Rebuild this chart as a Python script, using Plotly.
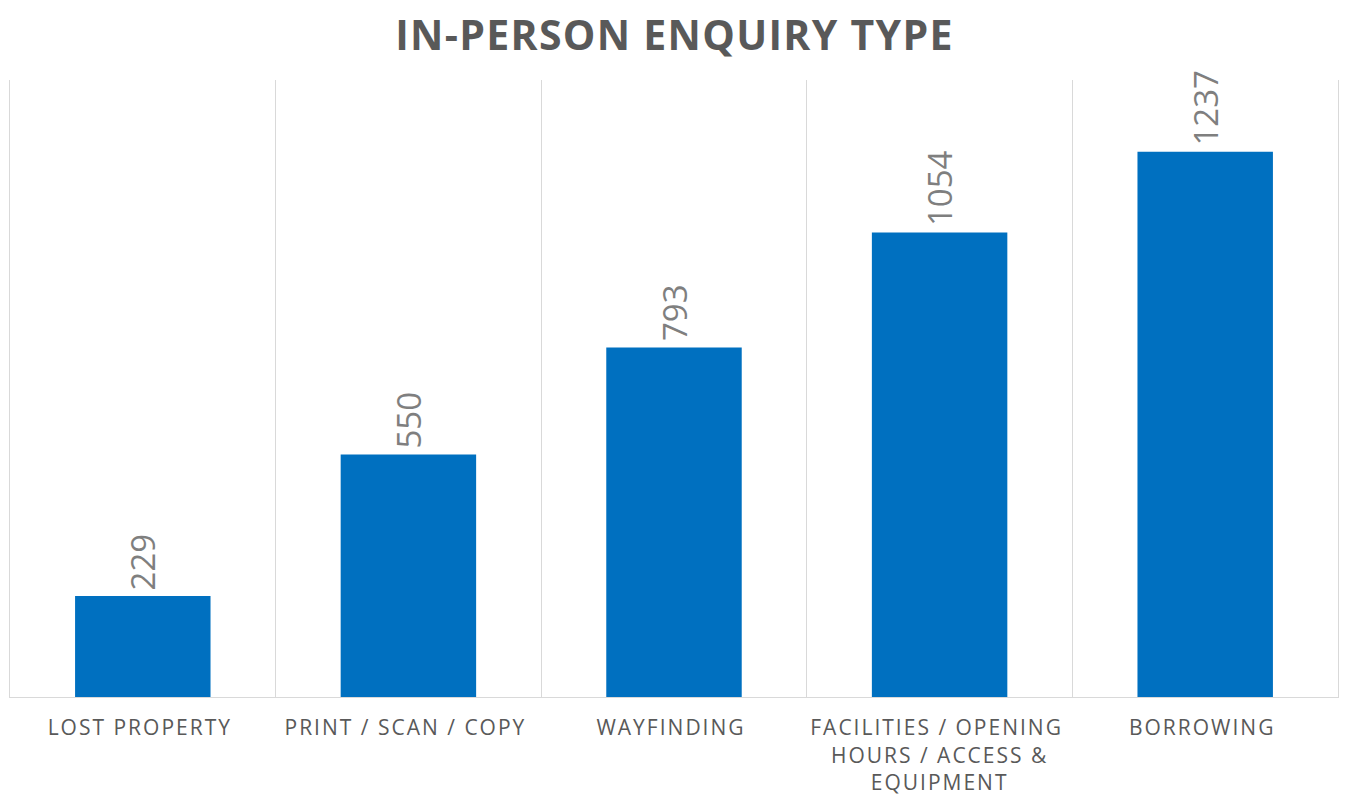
import plotly.graph_objects as go

categories = ["LOST PROPERTY", "PRINT / SCAN / COPY", "WAYFINDING",
              "FACILITIES / OPENING<br>HOURS / ACCESS &<br>EQUIPMENT", "BORROWING"]
values = [229, 550, 793, 1054, 1237]
title_text = "IN-PERSON ENQUIRY TYPE"

fig = go.Figure(go.Bar(
    x=categories, y=values,
    marker=dict(color="#0070C0", line=dict(width=0)),
    cliponaxis=False,
))

for c, v in zip(categories, values):
    fig.add_annotation(
        x=c, y=v, text=str(v), textangle=-90, showarrow=False,
        xanchor="center", yanchor="bottom", yshift=4,
        font=dict(family="Open Sans", size=33, color="#7F7F7F"),
    )

# page body has an 8px margin, so the figure is 1341x800 placed at (8, 8)
fig.update_layout(
    width=1341, height=800,
    margin=dict(l=2, r=11, t=72, b=111, autoexpand=False),
    paper_bgcolor="white", plot_bgcolor="white",
    title=dict(text="<b>" + title_text + "</b>", x=0.5 - 4/1341, xanchor="center",
               y=1 - 28/800, yanchor="middle",
               font=dict(family="Open Sans", size=41, color="#595959")),
    bargap=0.49,
    showlegend=False,
    font=dict(family="Open Sans", color="#595959"),
)
fig.update_xaxes(
    type="category", tickson="boundaries", showgrid=True, gridcolor="#D9D9D9", gridwidth=1,
    showline=True, linecolor="#D9D9D9", linewidth=1, ticks="", automargin=False,
    tickfont=dict(family="Open Sans", size=21, color="#595959"),
    ticklabelstandoff=12,
)
fig.update_yaxes(
    range=[0, 1400], showgrid=False, showticklabels=False, zeroline=False,
    showline=True, mirror=True, linecolor="#D9D9D9", linewidth=1, ticks="", automargin=False,
)

post = """
var gd = document.getElementById('{plot_id}');
function spacing() {
  gd.querySelectorAll('.xtick text').forEach(function(t){
    t.style.letterSpacing = '2px';
    t.setAttribute('dx', '-3');
  });
  gd.querySelectorAll('.gtitle').forEach(function(t){ t.style.letterSpacing = '1.3px'; });
}
spacing();
gd.on('plotly_afterplot', spacing);
"""

fig.write_html("out.html", post_script=post)
